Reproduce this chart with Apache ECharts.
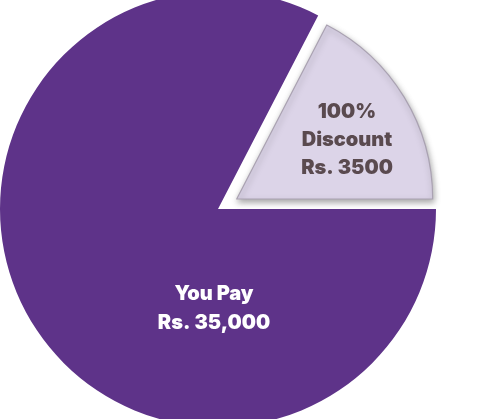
<!DOCTYPE html>
<html>
<head>
<meta charset="utf-8">
<script src="https://cdn.jsdelivr.net/npm/echarts@6/dist/echarts.min.js"></script>
<style>
html,body{margin:0;padding:0;background:#fff;}
#chart{width:479px;height:419px;}
</style>
</head>
<body>
<div id="chart"></div>
<script>
// Data (slice shares in %, estimated from angles)
const categories = ['You Pay', '100% Discount'];
const labels = ['You Pay\nRs. 35,000', '100%\nDiscount\nRs. 3500'];
const shares = [82.6, 17.4];

const chart = echarts.init(document.getElementById('chart'), null, {renderer: 'canvas'});
const font = 'Inter, "Open Sans", sans-serif';

const option = {
  backgroundColor: '#ffffff',
  animation: false,
  series: [
    {
      type: 'pie',
      center: [218, 209],
      radius: [0, 218],
      startAngle: 0,
      clockwise: true,
      silent: true,
      data: [
        {
          name: categories[0], value: shares[0],
          itemStyle: {color: '#5e3389'},
          label: {
            show: true, position: 'inside', formatter: labels[0],
            color: '#ffffff', fontFamily: font, fontWeight: 900, fontSize: 20,
            lineHeight: 29, align: 'center'
          }
        },
        {
          name: categories[1], value: shares[1],
          itemStyle: {color: 'rgba(0,0,0,0)'},
          label: {show: false}
        }
      ],
      labelLayout: function (p) {
        return {x: 214, y: 308, align: 'center', verticalAlign: 'middle'};
      },
      labelLine: {show: false}
    },
    {
      type: 'pie',
      center: [236.7, 199],
      radius: [0, 196],
      startAngle: 0,
      clockwise: true,
      silent: true,
      data: [
        {
          name: categories[0], value: shares[0],
          itemStyle: {color: 'rgba(0,0,0,0)'},
          label: {show: false}
        },
        {
          name: categories[1], value: shares[1],
          itemStyle: {
            color: '#dcd4e8', borderColor: '#aaa2b2', borderWidth: 1.2,
            shadowColor: 'rgba(0,0,0,0.35)', shadowBlur: 6, shadowOffsetX: 1, shadowOffsetY: 3
          },
          label: {
            show: true, position: 'inside', formatter: labels[1],
            color: '#5a4a4f', fontFamily: font, fontWeight: 900, fontSize: 20,
            lineHeight: 28, align: 'center'
          }
        }
      ],
      labelLayout: function (p) {
        return {x: 347, y: 140, align: 'center', verticalAlign: 'middle'};
      },
      labelLine: {show: false}
    }
  ]
};
chart.setOption(option);
</script>
</body>
</html>
